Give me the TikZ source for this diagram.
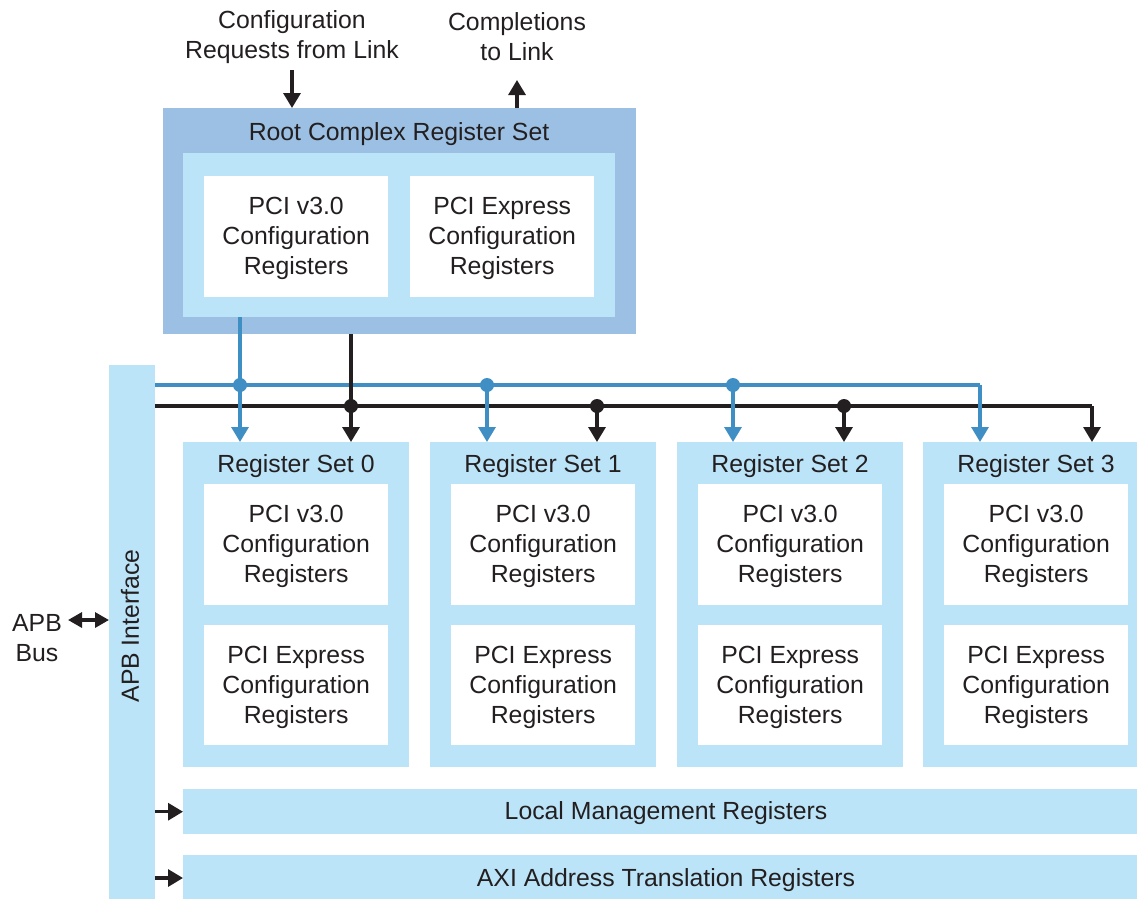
\documentclass[tikz,border=0pt]{standalone}
\usepackage{fontspec}
\setmainfont{Liberation Sans}
\usetikzlibrary{arrows.meta}
\definecolor{lb}{HTML}{BCE4F8}
\definecolor{mb}{HTML}{9BC0E3}
\definecolor{bl}{HTML}{3F8FC5}
\definecolor{dk}{HTML}{231F20}
\tikzset{
  blk/.style={draw=none, inner sep=0pt, anchor=north west},
  lbox/.style={blk, fill=lb},
  wbox/.style={blk, fill=white, minimum width=184pt},
  txt/.style={text=dk, align=center, font=\fontsize{24.8}{30}\selectfont, inner sep=0pt, yshift=-2pt},
  busb/.style={draw=bl, line width=3.2pt},
  busk/.style={draw=dk, line width=3.2pt},
  tipk/.style={-{Triangle[length=15pt,width=17pt]}},
  tipb/.style={-{Triangle[length=15pt,width=17pt]}},
  dotb/.style={circle, fill=bl, inner sep=0pt, minimum size=14pt},
  dotk/.style={circle, fill=dk, inner sep=0pt, minimum size=14pt},
}
\begin{document}
\begin{tikzpicture}[x=1pt,y=-1pt]
\useasboundingbox (0,0) rectangle (1137,898);
\clip (0,0) rectangle (1137,898);
% top labels
\node[txt] (cfgreq) at (292,35) {Configuration\\Requests from Link};
\node[txt] (compl) at (517,35) {Completions\\to Link};
% root complex
\node[blk, fill=mb, minimum width=473pt, minimum height=226pt] (root) at (163,108) {};
\node[lbox, minimum width=432pt, minimum height=164pt] (rootin) at (183,153) {};
\node[txt] (roottitle) at (399,132) {Root Complex Register Set};
\node[wbox, minimum height=121pt] (rootpci) at (204,176) {};
\node[wbox, minimum height=121pt] (rootpcie) at (410,176) {};
\node[txt] at (rootpci.center) {PCI v3.0\\Configuration\\Registers};
\node[txt] at (rootpcie.center) {PCI Express\\Configuration\\Registers};
\coordinate (inA) at (292,70);
\coordinate (outA) at (517,80);
\draw[busk, tipk] (inA) -- (inA |- root.north);
\draw[busk, tipk] (outA |- root.north) -- (outA);
% APB interface
\node[lbox, minimum width=46pt, minimum height=540pt] (apb) at (109,365) {};
\node[txt, rotate=90, yshift=2pt] (apbt) at (132,624) {APB Interface};
\node[txt] (apbbus) at (37,636) {APB\\Bus};
\coordinate (apbL) at (68,620);
\draw[busk, {Triangle[length=14pt,width=15pt]}-{Triangle[length=14pt,width=15pt]}] (apbL) -- (apbL -| apb.west);
% register sets
\foreach \i/\x in {0/183,1/430,2/677,3/923}{
  \node[lbox, minimum width=226pt, minimum height=325pt] (rs\i) at (\x,442) {};
  \node[txt] (rst\i) at (\x+113,464) {Register Set \i};
  \node[wbox, minimum height=121pt] (rsa\i) at (\x+21,484) {};
  \node[wbox, minimum height=120pt] (rsb\i) at (\x+21,625) {};
  \node[txt] at (rsa\i.center) {PCI v3.0\\Configuration\\Registers};
  \node[txt] at (rsb\i.center) {PCI Express\\Configuration\\Registers};
}
% bottom bars
\node[lbox, minimum width=966pt, minimum height=45pt] (lmr) at (183,789) {};
\node[txt] at (666,811) {Local Management Registers};
\node[lbox, minimum width=966pt, minimum height=46pt] (axi) at (183,855) {};
\node[txt] at (666,878) {AXI Address Translation Registers};
\draw[busk, tipk] (apb.east |- lmr.west) -- (lmr.west);
\coordinate (axiy) at (183,878);
\draw[busk, tipk] (apb.east |- axiy) -- (axiy);
% buses
\coordinate (bB) at (155,385);
\coordinate (bK) at (155,406);
\coordinate (bBend) at (980,385);
\coordinate (bKend) at (1092,406);
\draw[busb] (bB) -- (bBend);
\draw[busk] (bK) -- (bKend);
\draw[busb, tipb] (bBend) -- (bBend |- rs3.north);
\draw[busk, tipk] (bKend) -- (bKend |- rs3.north);
% root drops
\coordinate (dB0) at (240,385);
\coordinate (dK0) at (351,406);
\draw[busb, tipb] (dB0 |- rootin.south) -- (dB0 |- rs0.north);
\draw[busk, tipk] (dK0 |- root.south) -- (dK0 |- rs0.north);
\node[dotb] at (dB0) {};
\node[dotk] at (dK0) {};
% other drops
\coordinate (dB1) at (487,385);
\coordinate (dK1) at (597,406);
\coordinate (dB2) at (733,385);
\coordinate (dK2) at (844,406);
\draw[busb, tipb] (dB1) -- (dB1 |- rs1.north);
\draw[busk, tipk] (dK1) -- (dK1 |- rs1.north);
\draw[busb, tipb] (dB2) -- (dB2 |- rs2.north);
\draw[busk, tipk] (dK2) -- (dK2 |- rs2.north);
\node[dotb] at (dB1) {};
\node[dotk] at (dK1) {};
\node[dotb] at (dB2) {};
\node[dotk] at (dK2) {};
\end{tikzpicture}
\end{document}
